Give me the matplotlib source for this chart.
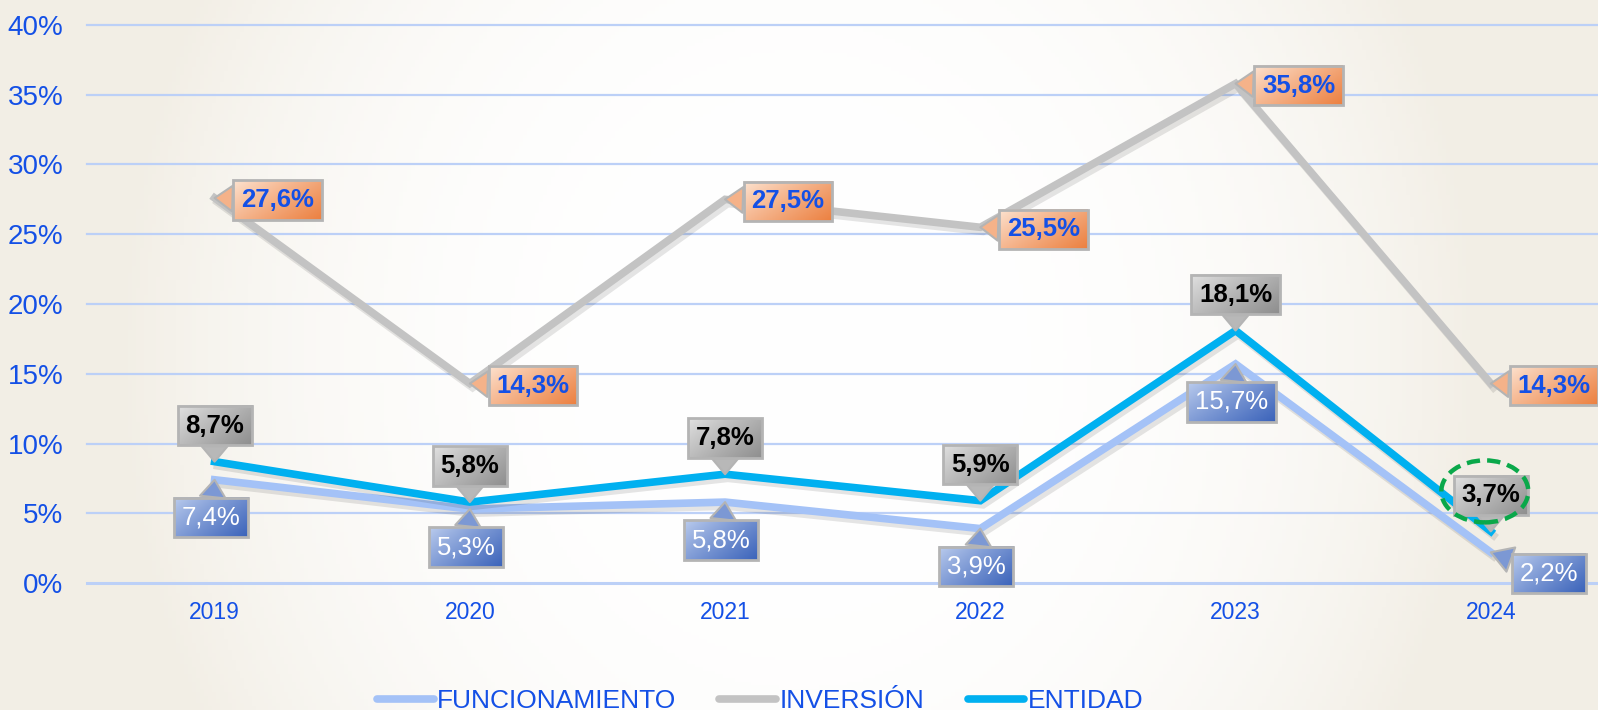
import numpy as np
import matplotlib
matplotlib.use("Agg")
import matplotlib.pyplot as plt
import matplotlib.patheffects as pe
from matplotlib.patches import Ellipse
from matplotlib.lines import Line2D

# ─────────────────────────────────────────────────────────────
# DATA
# ─────────────────────────────────────────────────────────────
years          = ["2019", "2020", "2021", "2022", "2023", "2024"]
funcionamiento = [7.4, 5.3, 5.8, 3.9, 15.7, 2.2]
inversion      = [27.6, 14.3, 27.5, 25.5, 35.8, 14.3]
entidad        = [8.7, 5.8, 7.8, 5.9, 18.1, 3.7]
yticks         = [0, 5, 10, 15, 20, 25, 30, 35, 40]

C_FUNC = "#a4c2f7"
C_INV  = "#c3c3c3"
C_ENT  = "#00b0f0"
C_TEXT = "#1450e6"

# box gradients (light top-left -> dark bottom-right)
G_INV  = ("#fde4d2", "#ec8040")
G_ENT  = ("#e2e2e2", "#8e8e8e")
G_FUNC = ("#bccdee", "#3b63ba")

W, H = 1598, 710
fig = plt.figure(figsize=(W / 100, H / 100), dpi=100)

# background: white centre fading to beige paper at the sides
bg = fig.add_axes([0, 0, 1, 1], zorder=-5)
gx, gy = np.meshgrid(np.linspace(-1, 1, 400), np.linspace(-1, 1, 200))
r = np.clip(np.sqrt((gx / 0.85) ** 2 + (gy / 2.2) ** 2), 0, 1) ** 3
c0 = np.array([1.0, 1.0, 1.0])
c1 = np.array([0.95, 0.935, 0.9])
img = c0[None, None, :] * (1 - r[..., None]) + c1[None, None, :] * r[..., None]
bg.imshow(img, aspect="auto", extent=[0, 1, 0, 1])
bg.axis("off")

# plot area in pixels: x 87..1598, y 25..583
ax = fig.add_axes([87 / W, (H - 583) / H, (W - 87) / W, (583 - 25) / H])
ax.set_facecolor("none")
x = np.arange(len(years))
ax.set_xlim(-0.5, 5.42)
ax.set_ylim(0, 40)
ax.set_yticks(yticks)
ax.set_yticklabels([f"{v}%" for v in yticks])
ax.set_xticks(x)
ax.set_xticklabels(years)
ax.tick_params(axis="y", length=0, pad=17, labelsize=20, labelcolor=C_TEXT)
ax.tick_params(axis="x", length=0, pad=13, labelsize=16.5, labelcolor=C_TEXT)
for lab in ax.get_yticklabels() + ax.get_xticklabels():
    lab.set_fontfamily("Liberation Sans")
for s in ax.spines.values():
    s.set_visible(False)
for v in yticks:
    ax.axhline(v, color="#bcd0f7", lw=1.6 if v else 2.2, zorder=0, clip_on=False)

shadow = [pe.SimpleLineShadow(offset=(2, -3), shadow_color="k", alpha=0.1),
          pe.Normal()]
ax.plot(x, inversion, color=C_INV, lw=5.5, zorder=3, path_effects=shadow,
        solid_joinstyle="miter")
ax.plot(x, funcionamiento, color=C_FUNC, lw=5.5, zorder=4, path_effects=shadow,
        solid_joinstyle="miter")
ax.plot(x, entidad, color=C_ENT, lw=5.5, zorder=5, path_effects=shadow,
        solid_joinstyle="miter")

callouts = []


def callout(xi, yi, text, dx, dy, grad, tc, weight):
    mid = np.mean([matplotlib.colors.to_rgb(c) for c in grad], axis=0)
    ann = ax.annotate(text, (xi, yi), xytext=(dx, dy), textcoords="offset pixels",
                      ha="center", va="center", fontsize=18.5, color=tc,
                      fontweight=weight, family="Liberation Sans", zorder=10,
                      annotation_clip=False,
                      bbox=dict(boxstyle="square,pad=0.3", fc="none",
                                ec="#b4b4b4", lw=2),
                      arrowprops=dict(arrowstyle="wedge,tail_width=1.0,shrink_factor=0.5",
                                      fc=mid, ec="#b4b4b4", lw=1.5,
                                      shrinkA=0, shrinkB=0))
    callouts.append((ann, grad))


fmt = lambda v: f"{v:.1f}%".replace(".", ",")

for xi, v in zip(x, inversion):
    callout(xi, v, fmt(v), 63, -2, G_INV, C_TEXT, "bold")
for xi, v in zip(x, entidad):
    callout(xi, v, fmt(v), 0, 36, G_ENT, "black", "bold")
for xi, v in zip(x, funcionamiento):
    dx, dy = (58, -21) if xi == 5 else (-4, -38)
    callout(xi, v, fmt(v), dx, dy, G_FUNC, "white", "normal")

# green dashed highlight around the last ENTIDAD label
px_x = (W - 87) / (5.42 + 0.5)
px_y = (583 - 25) / 40
ax.add_patch(Ellipse((x[-1] - 6 / px_x, entidad[-1] + 40 / px_y),
                     87 / px_x, 62 / px_y, fill=False, ec="#0aa84a",
                     lw=3.2, ls=(0, (3, 1.6)), zorder=12))

handles = [Line2D([], [], color=c, lw=5.5, solid_capstyle="round")
           for c in (C_FUNC, C_INV, C_ENT)]
leg = fig.legend(handles, ["FUNCIONAMIENTO", "INVERSIÓN", "ENTIDAD"],
                 loc="center", bbox_to_anchor=(760 / W, 9 / H), ncol=3,
                 frameon=False, handlelength=2.15, handletextpad=0.12,
                 columnspacing=1.65,
                 prop=dict(family="Liberation Sans", size=19))
for t in leg.get_texts():
    t.set_color(C_TEXT)

# gradient fill behind each callout box
fig.canvas.draw()
rend = fig.canvas.get_renderer()
inv = ax.transData.inverted()
gu, gv = np.meshgrid(np.linspace(0, 1, 60), np.linspace(0, 1, 30))
t = np.clip((0.6 * gu + 0.4 * gv) ** 0.9, 0, 1)
for ann, grad in callouts:
    ext = ann.get_bbox_patch().get_window_extent(rend)
    (x0, y0), (x1, y1) = inv.transform([[ext.x0, ext.y0], [ext.x1, ext.y1]])
    lo = np.array(matplotlib.colors.to_rgb(grad[0]))
    hi = np.array(matplotlib.colors.to_rgb(grad[1]))
    g = lo[None, None, :] * (1 - t[..., None]) + hi[None, None, :] * t[..., None]
    ax.imshow(g, extent=(x0, x1, y0, y1), origin="upper", aspect="auto",
              zorder=9, interpolation="bilinear", clip_on=False)
ax.set_xlim(-0.5, 5.42)
ax.set_ylim(0, 40)

fig.savefig("out.png", dpi=100)
